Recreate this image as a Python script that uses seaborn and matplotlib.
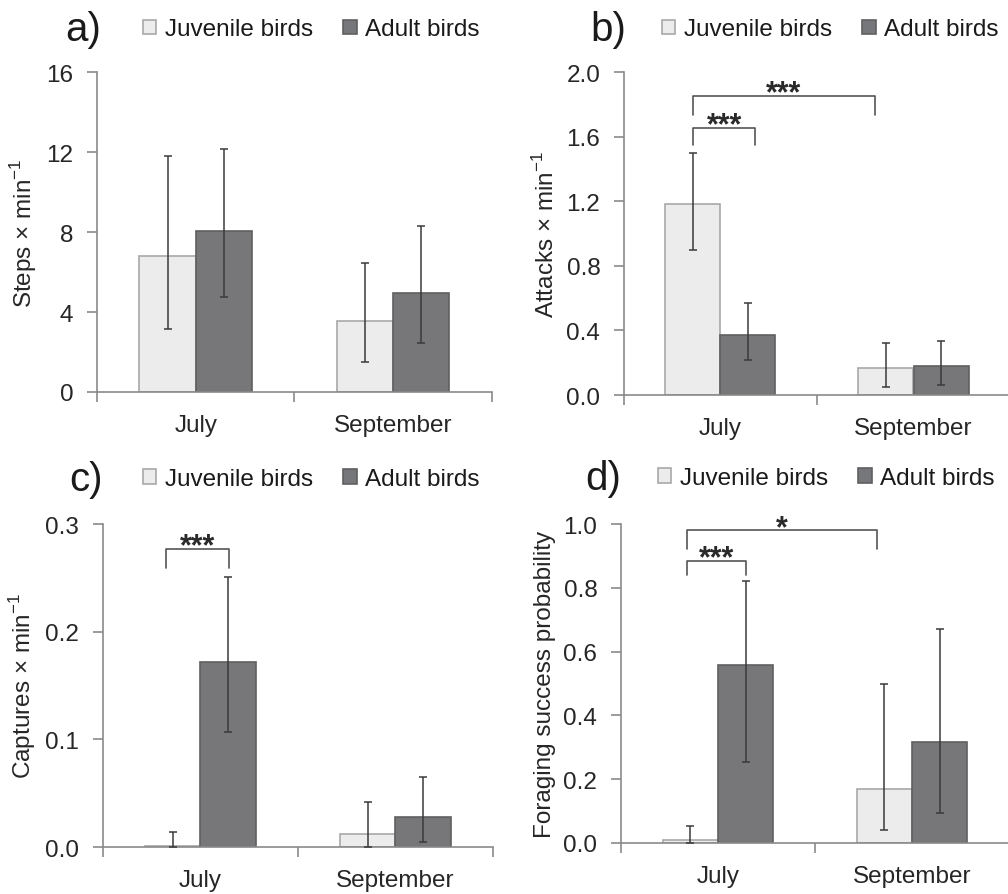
import numpy as np
import pandas as pd
import matplotlib
matplotlib.use("Agg")
import matplotlib.pyplot as plt
from matplotlib.patches import Patch
import seaborn as sns

# ---- data ----
months = ["July", "September"]
groups = ["Juvenile birds", "Adult birds"]

steps_juv = [6.8, 3.55]
steps_juv_lo = [3.15, 1.5]
steps_juv_hi = [11.8, 6.45]
steps_adu = [8.05, 4.95]
steps_adu_lo = [4.75, 2.45]
steps_adu_hi = [12.15, 8.3]

attacks_juv = [1.18, 0.165]
attacks_juv_lo = [0.90, 0.05]
attacks_juv_hi = [1.50, 0.32]
attacks_adu = [0.37, 0.18]
attacks_adu_lo = [0.22, 0.065]
attacks_adu_hi = [0.57, 0.335]

captures_juv = [0.001, 0.012]
captures_juv_lo = [0.0, 0.0]
captures_juv_hi = [0.014, 0.042]
captures_adu = [0.172, 0.028]
captures_adu_lo = [0.107, 0.005]
captures_adu_hi = [0.251, 0.065]

success_juv = [0.008, 0.17]
success_juv_lo = [0.0, 0.04]
success_juv_hi = [0.053, 0.497]
success_adu = [0.557, 0.318]
success_adu_lo = [0.253, 0.095]
success_adu_hi = [0.822, 0.67]

# significance brackets: (x_left, x_right, y_top, y_leg, label, y_label)
brackets_b = [(-0.1425, 0.18, 1.653, 1.55, "***", 1.70),
              (-0.1425, 0.80, 1.85, 1.734, "***", 1.90)]
brackets_c = [(-0.175, 0.145, 0.2767, 0.2587, "***", 0.284)]
brackets_d = [(-0.16, 0.144, 0.884, 0.840, "***", 0.909),
              (-0.16, 0.82, 0.98, 0.923, "*", 1.003)]

juv_color, juv_edge = "#ececec", "#a8a8a8"
adu_color, adu_edge = "#76777a", "#606060"
spine_color = "#8a8a8a"
err_color = "#3a3a3a"
fs = 17.5

sns.set_theme(style="white")
plt.rcParams["font.family"] = ["Liberation Sans", "DejaVu Sans"]
plt.rcParams["text.color"] = "#1a1a1a"

fig = plt.figure(figsize=(10.08, 8.95), dpi=100)


def draw_panel(rect, juv, juv_lo, juv_hi, adu, adu_lo, adu_hi, ylim, yticks, fmt,
               ylabel, letter, letter_xy, legend_xy, brackets):
    ax = fig.add_axes(rect)
    df = pd.DataFrame({
        "month": months * 2,
        "group": [groups[0]] * 2 + [groups[1]] * 2,
        "value": juv + adu,
    })
    sns.barplot(data=df, x="month", y="value", hue="group", order=months,
                hue_order=groups, palette=[juv_color, adu_color], width=0.57,
                gap=0, errorbar=None, legend=False, ax=ax, linewidth=1.2)
    for cont, ec, val, lo, hi in zip(ax.containers, [juv_edge, adu_edge],
                                     [juv, adu], [juv_lo, adu_lo], [juv_hi, adu_hi]):
        for p in cont:
            p.set_edgecolor(ec)
        xs = [p.get_x() + p.get_width() / 2 for p in cont]
        val = np.array(val)
        yerr = [val - np.array(lo), np.array(hi) - val]
        ax.errorbar(xs, val, yerr=yerr, fmt="none", ecolor=err_color,
                    elinewidth=1.1, capsize=3, capthick=1.1, zorder=5)

    ax.set_xlim(-0.5, 1.5)
    ax.set_ylim(*ylim)
    ax.set_yticks(yticks)
    ax.set_yticklabels([fmt.format(v) for v in yticks], fontsize=fs)
    ax.set_xticks([0, 1])
    ax.set_xticklabels(months, fontsize=fs)
    ax.set_xticks([-0.5, 0.5, 1.5], minor=True)
    ax.tick_params(axis="x", which="major", length=0, pad=15.5)
    ax.tick_params(axis="x", which="minor", bottom=True, length=7, width=1.2,
                   color=spine_color, direction="out")
    ax.tick_params(axis="y", left=True, length=7, width=1.2, color=spine_color,
                   direction="out", pad=10)
    ax.set_xlabel("")
    ax.set_ylabel(ylabel, fontsize=fs, labelpad=5)
    sns.despine(ax=ax)
    for s in ["left", "bottom"]:
        ax.spines[s].set_color(spine_color)
        ax.spines[s].set_linewidth(1.2)

    for xl, xr, yt, yl, lab, ys in brackets:
        ax.plot([xl, xl, xr, xr], [yl, yt, yt, yl], color="#555555", lw=1.2,
                clip_on=False, zorder=6)
        ax.annotate(lab, xy=((xl + xr) / 2, ys), xytext=(0, -9.5),
                    textcoords="offset points", ha="center", va="baseline",
                    fontsize=22, fontweight="bold", color="#2a2a2a",
                    annotation_clip=False)

    handles = [Patch(facecolor=juv_color, edgecolor=juv_edge, linewidth=1.2),
               Patch(facecolor=adu_color, edgecolor=adu_edge, linewidth=1.2)]
    ax.legend(handles, groups, loc="center left", bbox_to_anchor=legend_xy,
              bbox_transform=fig.transFigure, ncol=2, frameon=False,
              borderpad=0, borderaxespad=0, handlelength=0.55, handleheight=0.55,
              handletextpad=0.35, columnspacing=1.25, fontsize=fs)
    fig.text(letter_xy[0], letter_xy[1], letter, ha="right", va="center",
             fontsize=29)
    return ax


draw_panel([0.0962, 0.5609, 0.3918, 0.3575], steps_juv, steps_juv_lo, steps_juv_hi,
           steps_adu, steps_adu_lo, steps_adu_hi, (0, 16), [0, 4, 8, 12, 16], "{:.0f}",
           r"Steps × min$^{\mathregular{-1}}$", "a)", (101 / 1008, 0.966),
           (143 / 1008, 0.966), [])
draw_panel([0.619, 0.5575, 0.383, 0.3609], attacks_juv, attacks_juv_lo, attacks_juv_hi,
           attacks_adu, attacks_adu_lo, attacks_adu_hi, (0, 2.0),
           [0.0, 0.4, 0.8, 1.2, 1.6, 2.0], "{:.1f}",
           r"Attacks × min$^{\mathregular{-1}}$", "b)", (626 / 1008, 0.966),
           (662 / 1008, 0.966), brackets_b)
draw_panel([0.102, 0.0525, 0.387, 0.3609], captures_juv, captures_juv_lo, captures_juv_hi,
           captures_adu, captures_adu_lo, captures_adu_hi, (0, 0.3),
           [0.0, 0.1, 0.2, 0.3], "{:.1f}",
           r"Captures × min$^{\mathregular{-1}}$", "c)", (103 / 1008, 0.4637),
           (143 / 1008, 0.4637), brackets_c)
draw_panel([0.616, 0.0570, 0.385, 0.3564], success_juv, success_juv_lo, success_juv_hi,
           success_adu, success_adu_lo, success_adu_hi, (0, 1.0),
           [0.0, 0.2, 0.4, 0.6, 0.8, 1.0], "{:.1f}",
           "Foraging success probability", "d)", (621 / 1008, 0.4648),
           (658 / 1008, 0.4648), brackets_d)

fig.savefig("out.png", dpi=100)
